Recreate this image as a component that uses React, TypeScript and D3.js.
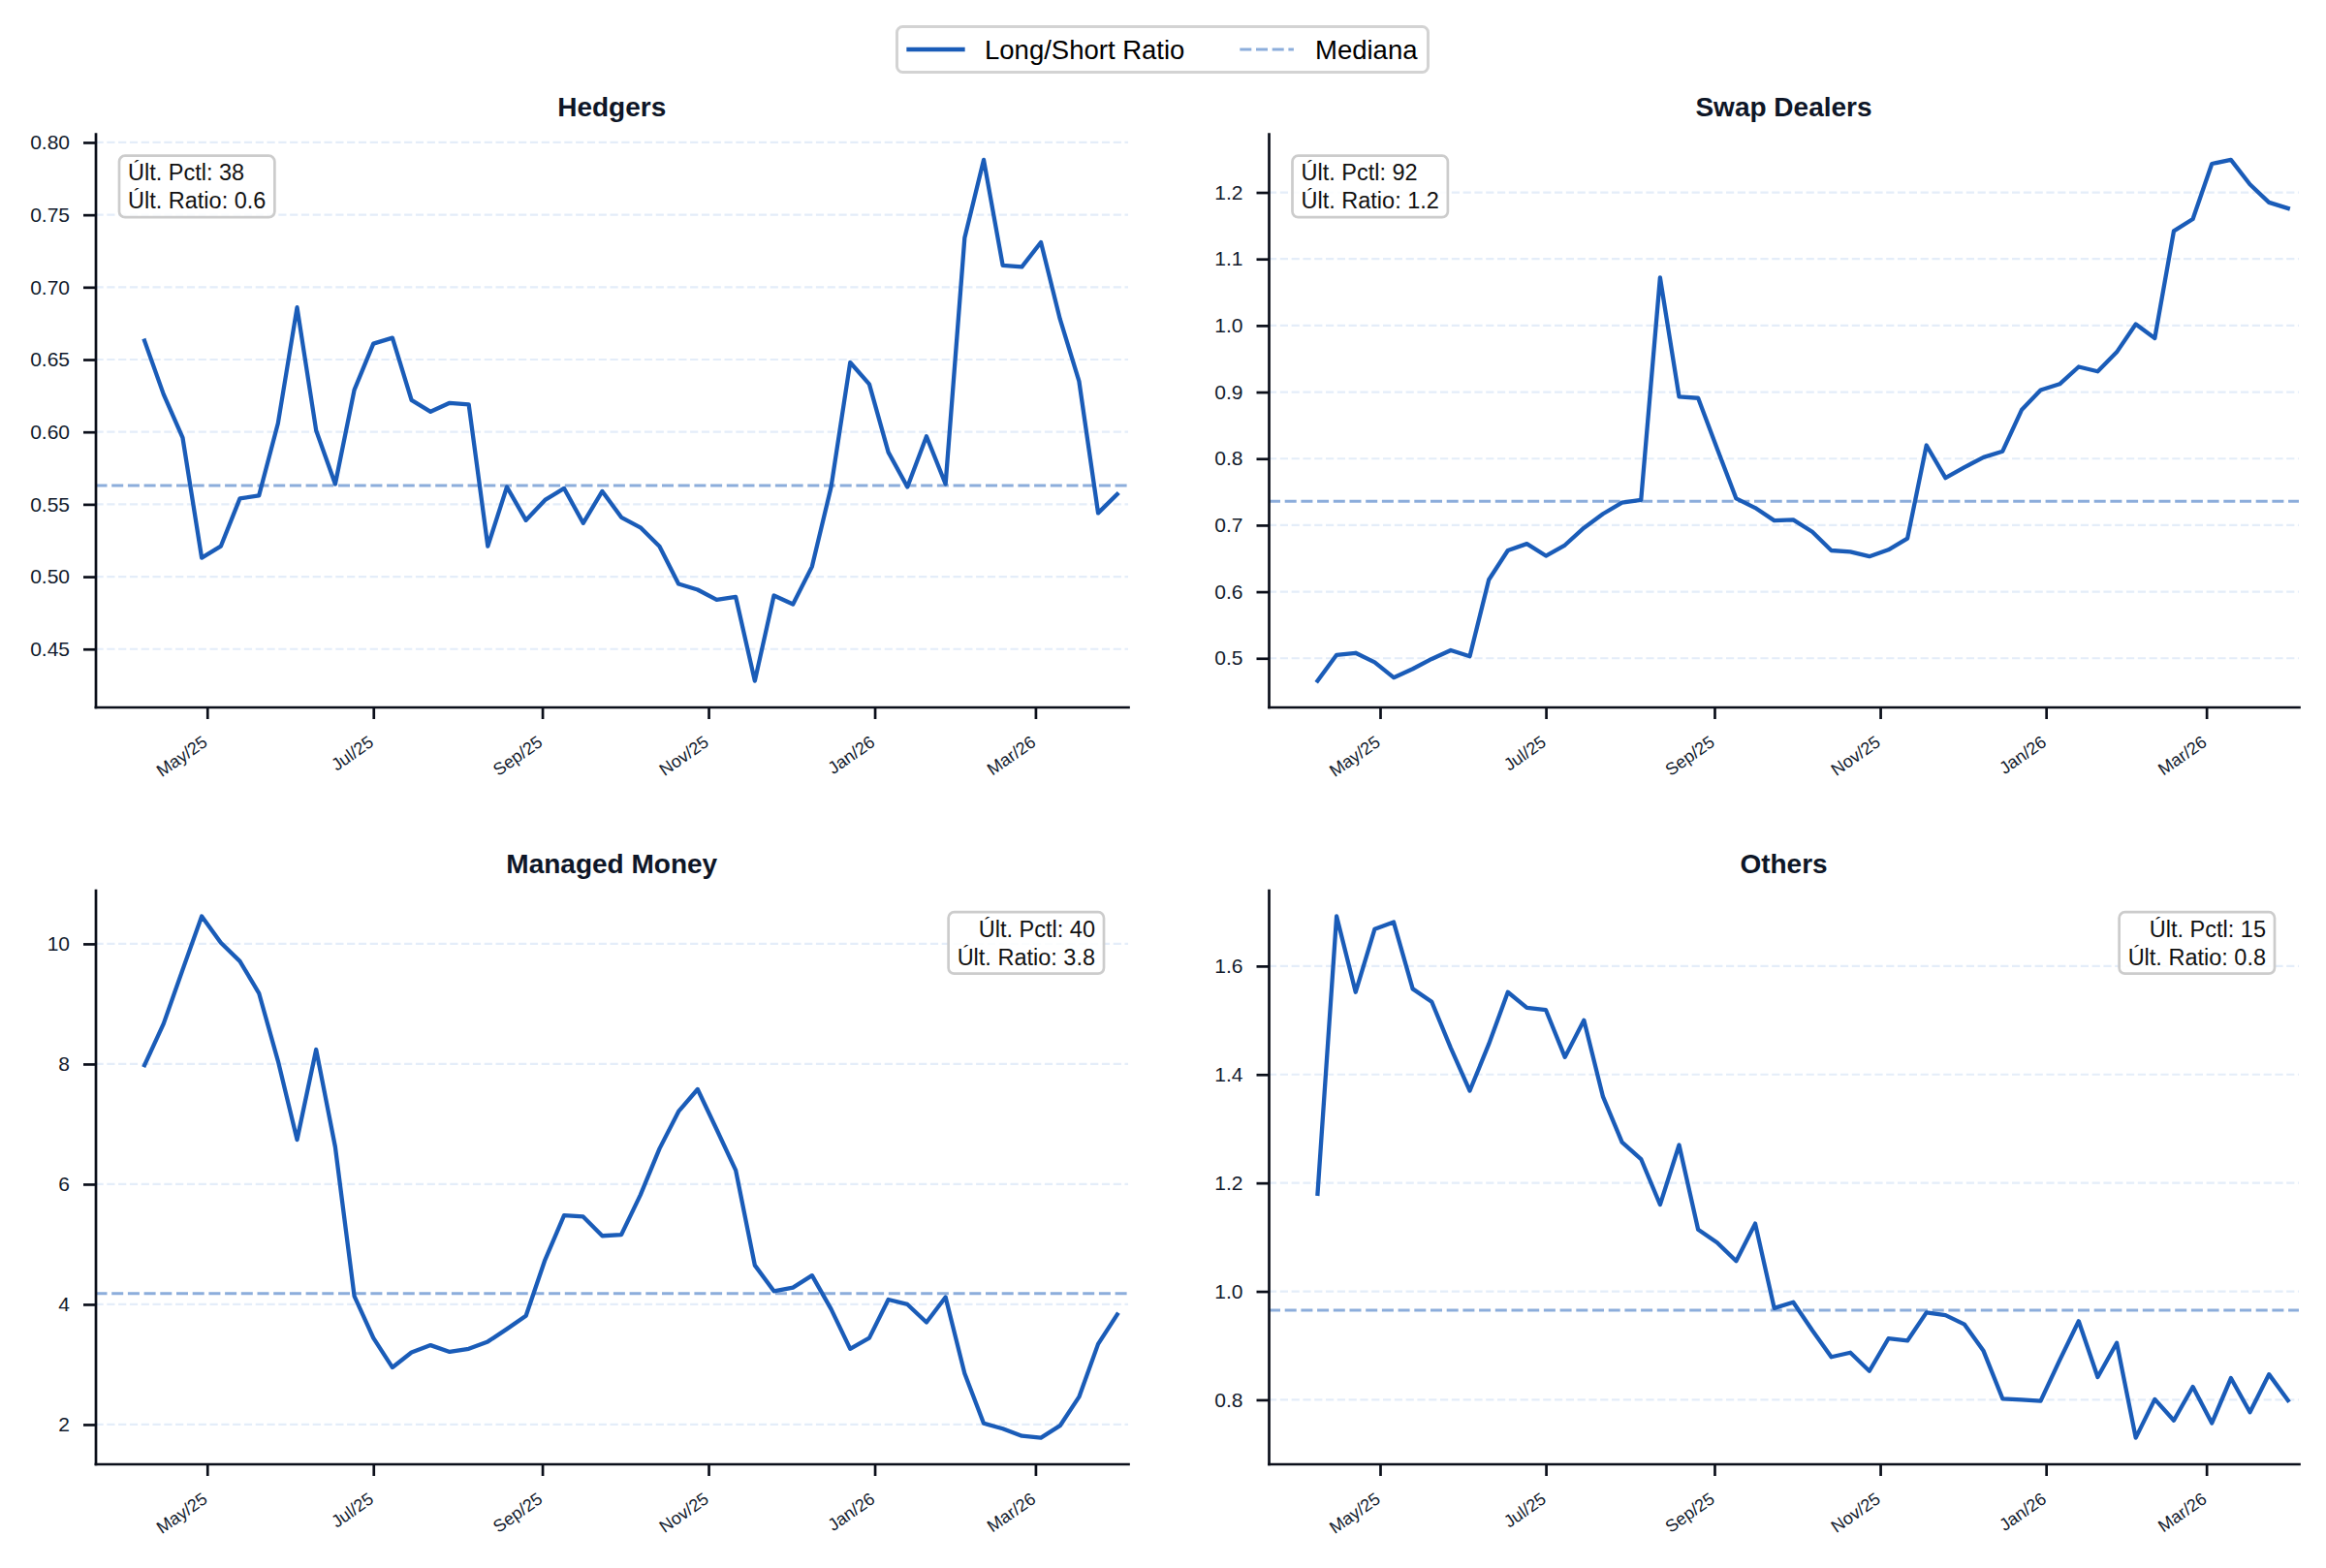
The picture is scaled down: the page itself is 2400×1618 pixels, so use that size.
import React, { useEffect, useRef } from 'react';
import * as d3 from 'd3';

// weekly COT dates, first report
const START_DATE = '2025-04-08';
const N_WEEKS = 52;

const hedgers = [
  0.663, 0.626, 0.596, 0.513, 0.521, 0.554, 0.556, 0.606, 0.686, 0.601, 0.564, 0.629, 0.661,
  0.665, 0.622, 0.614, 0.62, 0.619, 0.521, 0.562, 0.539, 0.553, 0.561, 0.537, 0.559, 0.541,
  0.534, 0.521, 0.495, 0.491, 0.484, 0.486, 0.428, 0.487, 0.481, 0.507, 0.562, 0.648, 0.633,
  0.586, 0.562, 0.597, 0.564, 0.734, 0.788, 0.715, 0.714, 0.731, 0.678, 0.635, 0.544, 0.557,
];
const swapDealers = [
  0.466, 0.505, 0.508, 0.494, 0.471, 0.484, 0.499, 0.512, 0.503, 0.618, 0.662, 0.672, 0.654,
  0.67, 0.696, 0.717, 0.734, 0.738, 1.072, 0.893, 0.891, 0.815, 0.74, 0.726, 0.707, 0.708,
  0.69, 0.662, 0.66, 0.653, 0.663, 0.68, 0.82, 0.771, 0.787, 0.802, 0.811, 0.873, 0.903,
  0.912, 0.938, 0.931, 0.96, 1.002, 0.981, 1.142, 1.16, 1.243, 1.249, 1.212, 1.185, 1.176,
];
const managedMoney = [
  7.98, 8.67, 9.57, 10.46, 10.02, 9.71, 9.18, 8.05, 6.74, 8.24, 6.62, 4.14, 3.44, 2.95, 3.2,
  3.32, 3.21, 3.26, 3.38, 3.59, 3.81, 4.74, 5.48, 5.46, 5.14, 5.16, 5.82, 6.59, 7.21, 7.58,
  6.91, 6.23, 4.65, 4.22, 4.28, 4.48, 3.92, 3.26, 3.44, 4.08, 4.0, 3.7, 4.12, 2.85, 2.02, 1.93,
  1.81, 1.78, 1.98, 2.46, 3.34, 3.83,
];
const others = [
  1.18, 1.692, 1.552, 1.668, 1.681, 1.558, 1.534, 1.449, 1.37, 1.456, 1.552, 1.523, 1.519,
  1.432, 1.5, 1.359, 1.275, 1.244, 1.16, 1.27, 1.114, 1.09, 1.056, 1.125, 0.969, 0.98, 0.928,
  0.879, 0.887, 0.853, 0.913, 0.909, 0.961, 0.956, 0.939, 0.89, 0.802, 0.8, 0.798, 0.873,
  0.945, 0.842, 0.905, 0.73, 0.801, 0.762, 0.824, 0.757, 0.84, 0.777, 0.847, 0.799,
];

const panelTitles = ['Hedgers', 'Swap Dealers', 'Managed Money', 'Others'];
const lastPercentiles = [38, 92, 40, 15];
const legendLabels = ['Long/Short Ratio', 'Mediana'];

const xTickDates = ['2025-05-01', '2025-07-01', '2025-09-01', '2025-11-01', '2026-01-01', '2026-03-01'];
const hedgersTicks = [0.45, 0.5, 0.55, 0.6, 0.65, 0.7, 0.75, 0.8];
const swapTicks = [0.5, 0.6, 0.7, 0.8, 0.9, 1.0, 1.1, 1.2];
const managedTicks = [2, 4, 6, 8, 10];
const othersTicks = [0.8, 1.0, 1.2, 1.4, 1.6];

const LINE_COLOR = '#1a5cb8';
const TEXT_DARK = '#111a2c';
const FONT = "'Liberation Sans', Arial, Helvetica, sans-serif";

export default function App() {
  const ref = useRef<SVGSVGElement>(null);

  useEffect(() => {
    document.body.style.margin = '0';
    const svg = d3.select(ref.current);
    svg.selectAll('*').remove();

    const parse = d3.timeParse('%Y-%m-%d');
    const start = parse(START_DATE) as Date;
    const dates = d3.range(N_WEEKS).map((i) => d3.timeDay.offset(start, i * 7));
    const xDomain = [d3.timeDay.offset(dates[0], -18), d3.timeDay.offset(dates[dates.length - 1], 4.5)];
    const xTicks = xTickDates.map((s) => parse(s) as Date);

    const panels = [
      { values: hedgers, ticks: hedgersTicks, fmt: '.2f', box: { l: 98.5, r: 1164, t: 138, b: 729.5 }, side: 'left' },
      { values: swapDealers, ticks: swapTicks, fmt: '.1f', box: { l: 1309, r: 2372, t: 138, b: 729.5 }, side: 'left' },
      { values: managedMoney, ticks: managedTicks, fmt: 'd', box: { l: 98.5, r: 1164, t: 918.5, b: 1510.5 }, side: 'right' },
      { values: others, ticks: othersTicks, fmt: '.1f', box: { l: 1309, r: 2372, t: 918.5, b: 1510.5 }, side: 'right' },
    ];

    svg.append('rect').attr('width', 2400).attr('height', 1618).attr('fill', '#fff');

    panels.forEach((p, idx) => {
      const { l, r, t, b } = p.box;
      const g = svg.append('g');
      const x = d3.scaleTime().domain(xDomain).range([l, r]);
      const [lo, hi] = d3.extent(p.values) as [number, number];
      const pad = (hi - lo) * 0.05;
      const y = d3.scaleLinear().domain([lo - pad, hi + pad]).range([b, t]);

      // grid
      g.append('g')
        .selectAll('line')
        .data(p.ticks)
        .join('line')
        .attr('x1', l)
        .attr('x2', r)
        .attr('y1', (d) => y(d))
        .attr('y2', (d) => y(d))
        .attr('stroke', '#e4edf9')
        .attr('stroke-width', 2.2)
        .attr('stroke-dasharray', '8.2,3.6');

      // median
      const med = d3.median(p.values) as number;
      g.append('line')
        .attr('x1', l)
        .attr('x2', r)
        .attr('y1', y(med))
        .attr('y2', y(med))
        .attr('stroke', LINE_COLOR)
        .attr('stroke-opacity', 0.5)
        .attr('stroke-width', 3)
        .attr('stroke-dasharray', '12,4.7');

      // series
      const line = d3
        .line<number>()
        .x((_, i) => x(dates[i]))
        .y((d) => y(d));
      g.append('path')
        .datum(p.values)
        .attr('d', line)
        .attr('fill', 'none')
        .attr('stroke', LINE_COLOR)
        .attr('stroke-width', 4.3)
        .attr('stroke-linejoin', 'round')
        .attr('stroke-linecap', 'square');

      // y axis
      const yAxis = g
        .append('g')
        .attr('transform', `translate(${l},0)`)
        .call(
          d3
            .axisLeft(y)
            .tickValues(p.ticks)
            .tickFormat(d3.format(p.fmt) as any)
            .tickSize(12.5)
            .tickSizeOuter(0)
            .tickPadding(14),
        );
      // x axis
      const xAxis = g
        .append('g')
        .attr('transform', `translate(0,${b})`)
        .call(
          d3
            .axisBottom(x)
            .tickValues(xTicks)
            .tickFormat(d3.timeFormat('%b/%y') as any)
            .tickSize(12.5)
            .tickSizeOuter(0),
        );
      [yAxis, xAxis].forEach((ax) => {
        ax.attr('font-family', FONT);
        ax.select('.domain').attr('stroke', '#0b0f1a').attr('stroke-width', 2.7).attr('stroke-linecap', 'square');
        ax.selectAll('.tick line').attr('stroke', '#0b0f1a').attr('stroke-width', 2.7);
        ax.selectAll('.tick text').attr('fill', TEXT_DARK);
      });
      yAxis.selectAll('.tick text').attr('font-size', 21);
      xAxis
        .selectAll('.tick text')
        .attr('font-size', 18)
        .attr('x', 0)
        .attr('y', 0)
        .attr('dy', 0)
        .attr('text-anchor', 'end')
        .attr('transform', 'translate(1,39) rotate(-35)');

      // title
      g.append('text')
        .attr('x', (l + r) / 2)
        .attr('y', t - 18)
        .attr('text-anchor', 'middle')
        .attr('font-family', FONT)
        .attr('font-weight', 'bold')
        .attr('font-size', 28)
        .attr('fill', '#0e1627')
        .text(panelTitles[idx]);

      // annotation box
      const lines = [
        `Últ. Pctl: ${lastPercentiles[idx]}`,
        `Últ. Ratio: ${d3.format('.1f')(p.values[p.values.length - 1])}`,
      ];
      const ag = g.append('g');
      const rect = ag.append('rect');
      const txt = ag
        .append('g')
        .attr('font-family', FONT)
        .attr('font-size', 23.5)
        .attr('fill', '#111');
      const left = p.side === 'left';
      const boxTop = t + 22.7;
      lines.forEach((s, i) => {
        txt
          .append('text')
          .attr('y', boxTop + 25.5 + i * 29)
          .attr('text-anchor', left ? 'start' : 'end')
          .text(s);
      });
      const widths = txt.selectAll<SVGTextElement, unknown>('text').nodes().map((n) => n.getComputedTextLength());
      const w = (d3.max(widths) as number) + 18;
      const boxX = left ? l + 24.5 : r - 25 - w;
      txt.selectAll('text').attr('x', left ? boxX + 9 : boxX + w - 9);
      rect
        .attr('x', boxX)
        .attr('y', boxTop)
        .attr('width', w)
        .attr('height', 63.5)
        .attr('rx', 6)
        .attr('fill', '#fff')
        .attr('fill-opacity', 0.85)
        .attr('stroke', '#cccccc')
        .attr('stroke-width', 2.7);
    });

    // legend
    const lg = svg.append('g').attr('font-family', FONT).attr('font-size', 27.5);
    lg.append('rect')
      .attr('x', 925.5)
      .attr('y', 27.5)
      .attr('width', 548)
      .attr('height', 47)
      .attr('rx', 6)
      .attr('fill', '#fff')
      .attr('stroke', '#d3d3d3')
      .attr('stroke-width', 3);
    lg.append('line')
      .attr('x1', 937.5)
      .attr('x2', 993.5)
      .attr('y1', 51)
      .attr('y2', 51)
      .attr('stroke', LINE_COLOR)
      .attr('stroke-width', 4.3)
      .attr('stroke-linecap', 'square');
    lg.append('text').attr('x', 1016).attr('y', 51).attr('dy', '0.35em').attr('fill', '#000').text(legendLabels[0]);
    lg.append('line')
      .attr('x1', 1279.3)
      .attr('x2', 1334.9)
      .attr('y1', 51)
      .attr('y2', 51)
      .attr('stroke', LINE_COLOR)
      .attr('stroke-opacity', 0.5)
      .attr('stroke-width', 3)
      .attr('stroke-dasharray', '12,4.7');
    lg.append('text').attr('x', 1357).attr('y', 51).attr('dy', '0.35em').attr('fill', '#000').text(legendLabels[1]);
  }, []);

  return <svg ref={ref} width={2400} height={1618} style={{ display: 'block' }} />;
}
